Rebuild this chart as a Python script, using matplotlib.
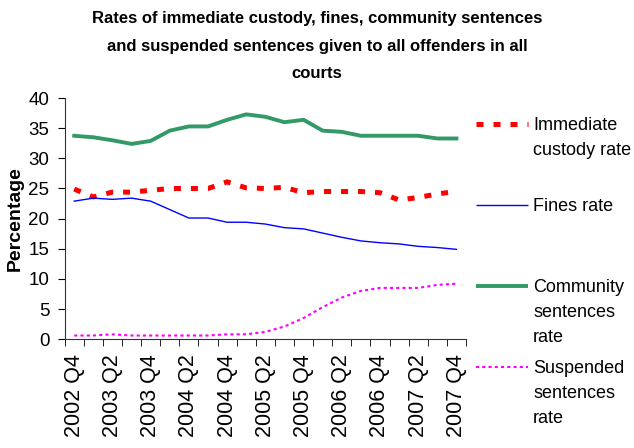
import matplotlib
matplotlib.use("Agg")
import matplotlib.pyplot as plt
from matplotlib.lines import Line2D

plt.rcParams["font.family"] = ["Liberation Sans", "DejaVu Sans"]

quarters = [
    "2002 Q4", "2003 Q1", "2003 Q2", "2003 Q3", "2003 Q4", "2004 Q1", "2004 Q2",
    "2004 Q3", "2004 Q4", "2005 Q1", "2005 Q2", "2005 Q3", "2005 Q4", "2006 Q1",
    "2006 Q2", "2006 Q3", "2006 Q4", "2007 Q1", "2007 Q2", "2007 Q3", "2007 Q4",
]
custody = [24.9, 23.6, 24.4, 24.4, 24.7, 25.0, 25.0, 25.0, 26.1, 25.1, 25.0,
           25.2, 24.3, 24.5, 24.5, 24.5, 24.3, 23.1, 23.5, 24.1, 24.5]
fines = [22.9, 23.4, 23.2, 23.4, 22.9, 21.5, 20.1, 20.1, 19.4, 19.4, 19.1,
         18.5, 18.3, 17.6, 16.9, 16.3, 16.0, 15.8, 15.4, 15.2, 14.9]
community = [33.75, 33.5, 33.0, 32.4, 32.9, 34.6, 35.3, 35.3, 36.4, 37.3, 36.9,
             36.0, 36.4, 34.6, 34.4, 33.75, 33.75, 33.75, 33.75, 33.3, 33.3]
suspended = [0.6, 0.6, 0.8, 0.6, 0.6, 0.6, 0.6, 0.6, 0.8, 0.8, 1.2,
             2.1, 3.5, 5.3, 6.9, 8.0, 8.5, 8.5, 8.5, 9.0, 9.2]

red = "#ff0000"
blue = "#0000ff"
green = "#339966"
magenta = "#ff00ff"

fig = plt.figure(figsize=(6.34, 4.48), dpi=100)
ax = fig.add_axes([0.102, 0.243, 0.633, 0.538])

x = list(range(len(quarters)))
ax.plot(x, custody, color=red, lw=3.6, dashes=(1.4, 2.0), solid_capstyle="butt")
ax.plot(x, fines, color=blue, lw=1.0)
ax.plot(x, community, color=green, lw=2.8)
ax.plot(x, suspended, color=magenta, lw=1.5, dashes=(1.5, 1.5))

ax.set_xlim(-0.5, len(quarters) - 0.5)
ax.set_ylim(0, 40)
ax.set_yticks(range(0, 41, 5))
ax.tick_params(axis="y", labelsize=13.5, length=5, direction="out", pad=6)

ax.set_xticks(x[::2])
ax.set_xticklabels(quarters[::2], rotation=90)
ax.set_xticks([i - 0.5 for i in range(len(quarters) + 1)], minor=True)
ax.tick_params(axis="x", which="major", length=0, labelsize=15.5, pad=11)
ax.tick_params(axis="x", which="minor", length=5, direction="out")

for s in ["top", "right"]:
    ax.spines[s].set_visible(False)
for s in ["left", "bottom"]:
    ax.spines[s].set_color("#333333")

ax.set_ylabel("Percentage", fontsize=14, fontweight="bold", labelpad=3)

fig.text(0.5, 1 - 11 / 448,
         "Rates of immediate custody, fines, community sentences\n"
         "and suspended sentences given to all offenders in all\ncourts",
         ha="center", va="top", fontsize=12, fontweight="bold", linespacing=2.05)

# legend drawn by hand so multi-line labels align to the first line
W, H = 634, 448
entries = [
    ("Immediate\ncustody rate", red, 3.6, (1.4, 2.0), 124),
    ("Fines rate", blue, 1.0, None, 205),
    ("Community\nsentences\nrate", green, 2.8, None, 286),
    ("Suspended\nsentences\nrate", magenta, 1.5, (1.5, 1.5), 367),
]
for label, col, lw, dash, ypix in entries:
    yf = 1 - ypix / H
    ln = Line2D([476 / W, 528 / W], [yf, yf], color=col, lw=lw,
                transform=fig.transFigure, solid_capstyle="butt")
    if dash:
        ln.set_dashes(dash)
    fig.add_artist(ln)
    fig.text(533 / W, yf + 7 / H, label, ha="left", va="top", fontsize=13,
             linespacing=1.6)

fig.savefig("out.png", dpi=100)
